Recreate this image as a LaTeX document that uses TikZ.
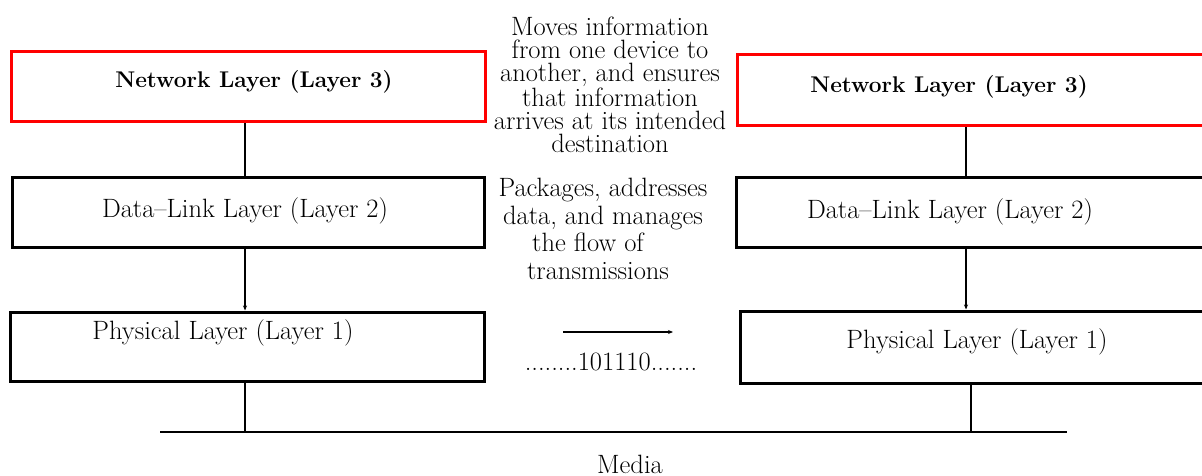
\documentclass[tikz,border=0pt]{standalone}
\usetikzlibrary{arrows.meta}
\begin{document}
\begin{tikzpicture}[x=1pt,y=-1pt,
  layerbox/.style={draw=black,line width=3pt,inner sep=0pt},
  netbox/.style={layerbox,draw=red},
  lbl/.style={inner sep=0pt,font=\fontsize{26.5}{28}\selectfont},
  blbl/.style={inner sep=0pt,font=\fontsize{22.7}{24}\selectfont\bfseries},
  note/.style={inner sep=0pt,align=center},
  link/.style={line width=1.4pt},
  tip/.style={line width=1.4pt,-{Stealth[length=5pt,width=4pt]}}]
\useasboundingbox (0,0) rectangle (1202,476);
\clip (0,0) rectangle (1202,476);

% left stack
\node[netbox,minimum width=474pt,minimum height=70pt] (netL) at (248,87) {};
\node[layerbox,minimum width=472pt,minimum height=70pt] (dlL) at (248,212) {};
\node[layerbox,minimum width=474pt,minimum height=69pt] (phL) at (247,346.5) {};
\node[blbl] (netLt) at (254,82) {Network Layer (Layer 3)};
\node[lbl] (dlLt) at (245,211) {Data--Link Layer (Layer 2)};
\node[lbl] (phLt) at (223,333) {Physical Layer (Layer 1)};

% right stack, running past the right edge
\node[netbox,minimum width=490pt,minimum height=71pt] (netR) at (982,90.5) {};
\node[layerbox,minimum width=490pt,minimum height=70pt] (dlR) at (981,212) {};
\node[layerbox,minimum width=490pt,minimum height=72pt] (phR) at (985,347) {};
\node[blbl] (netRt) at (949,87) {Network Layer (Layer 3)};
\node[lbl] (dlRt) at (950,212) {Data--Link Layer (Layer 2)};
\node[lbl] (phRt) at (977,342) {Physical Layer (Layer 1)};

% columns of the vertical connectors
\coordinate (colL) at (245,0);
\coordinate (colR) at (966,0);
\coordinate (mediaW) at (160,432);
\coordinate (mediaE) at (1067,432);

\draw[link] (netL.south -| colL) -- (dlL.north -| colL);
\draw[tip] (dlL.south -| colL) -- (phL.north -| colL);
\draw[link] (phL.south -| colL) -- (mediaW -| colL);
\draw[link] (netR.south -| colR) -- (dlR.north -| colR);
\draw[tip] (dlR.south -| colR) -- (phR.north -| colR);
\draw[link] ([xshift=5pt]phR.south -| colR) -- ([xshift=5pt]mediaW -| colR);

% media
\draw[line width=2pt] (mediaW) -- (mediaE);
\node[lbl,anchor=base] (media) at (630,473) {Media};

% bit stream
\coordinate (bitsW) at (563,332);
\coordinate (bitsE) at (673,332);
\draw[tip] (bitsW) -- (bitsE);
\node[lbl] (bits) at (611,362) {........101110.......};

% descriptions
\node[note,font=\fontsize{26.5}{23}\selectfont] (netNote) at (610,84.5)
  {Moves information\\from one device to\\another, and ensures\\that information\\arrives at its intended\\destination};
\node[note,font=\fontsize{26.5}{27.7}\selectfont] (dlNote) at (603,229)
  {Packages, addresses\\data, and manages\\\mbox{the flow of\hspace{30pt}}\\\mbox{transmissions\hspace{10pt}}};
\end{tikzpicture}
\end{document}
